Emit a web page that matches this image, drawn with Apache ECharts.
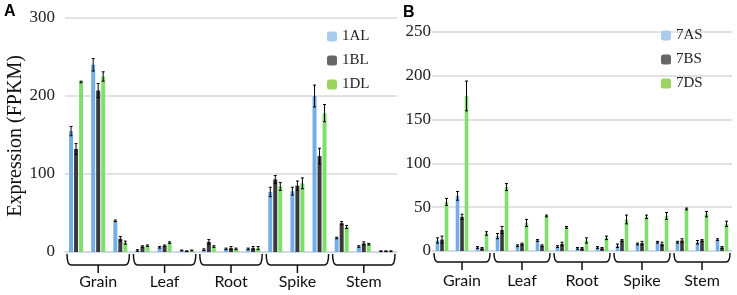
<!DOCTYPE html>
<html>
<head>
<meta charset="utf-8">
<script src="https://cdn.jsdelivr.net/npm/echarts@6/dist/echarts.min.js"></script>
<style>
html,body{margin:0;padding:0;background:#fff;}
#chart{width:737px;height:295px;}
</style>
</head>
<body>
<div id="chart"></div>
<script>
var groups = ['Grain', 'Leaf', 'Root', 'Spike', 'Stem'];
var samples = ['G1','G2','G3','L1','L2','L3','R1','R2','R3','P1','P2','P3','S1','S2','S3'];

// panel A
var v1AL = [155, 240, 40, 2, 6, 2, 3, 4, 4, 77, 78, 200, 18, 7, 1];
var e1AL = [6, 8, 1, 1, 1, 0.5, 1, 1, 1, 6, 5, 14, 1, 1, 0.5];
var v1BL = [132, 207, 17, 7, 8, 1, 13, 5, 5, 93, 85, 123, 37, 11, 1];
var e1BL = [7, 9, 3, 1, 1, 0.5, 3, 2, 2, 5, 6, 10, 2, 2, 0.5];
var v1DL = [218, 225, 12, 8, 12, 2, 7, 4, 5, 84, 88, 178, 32, 10, 1];
var e1DL = [1, 6, 2, 1, 1, 0.5, 1, 1, 2, 5, 7, 11, 2, 1, 0.5];

// panel B
var v7AS = [12, 63, 4, 17, 6, 12, 5, 3, 4, 6, 8, 10, 10, 10, 13];
var e7AS = [3, 5, 1, 3, 1, 1, 1, 1, 1, 2, 1, 1, 1, 2, 1];
var v7BS = [13, 39, 3, 24, 8, 6, 8, 3, 3, 12, 9, 8, 12, 12, 4];
var e7BS = [4, 3, 1, 4, 1, 1, 2, 1, 1, 1, 2, 2, 2, 1, 1];
var v7DS = [56, 177, 20, 73, 32, 40, 27, 12, 15, 36, 39, 40, 48, 42, 31];
var e7DS = [4, 17, 2, 4, 4, 1, 1, 3, 2, 5, 2, 4, 1, 3, 3];

var barCol = ['#74aee8', '#3a3a3a', '#80df6c'];
var legCol = ['#a9cbec', '#666666', '#9ad45e'];
var serif = 'Liberation Serif';

var chart = echarts.init(document.getElementById('chart'));

function barSeries(name, vals, axis, k, w) {
    return {
        name: name, type: 'bar', xAxisIndex: axis, yAxisIndex: axis,
        data: vals, barWidth: w, barGap: '25%',
        itemStyle: {color: barCol[k]}, silent: true
    };
}

function errSeries(vals, errs, axis, k, w) {
    var d = vals.map(function (v, i) { return [i, v, errs[i]]; });
    return {
        type: 'custom', xAxisIndex: axis, yAxisIndex: axis, silent: true, z: 5,
        data: d,
        renderItem: function (params, api) {
            var i = api.value(0), v = api.value(1), e = api.value(2);
            var off = (k - 1) * w * 1.25;
            var hi = api.coord([i, v + e]);
            var lo = api.coord([i, Math.max(v - e, 0)]);
            var x = hi[0] + off;
            var st = {stroke: '#000', lineWidth: 1};
            return {type: 'group', children: [
                {type: 'line', shape: {x1: x, y1: hi[1], x2: x, y2: lo[1]}, style: st},
                {type: 'line', shape: {x1: x - 1.5, y1: hi[1], x2: x + 1.5, y2: hi[1]}, style: st},
                {type: 'line', shape: {x1: x - 1.5, y1: lo[1], x2: x + 1.5, y2: lo[1]}, style: st}
            ]};
        }
    };
}

function braceSeries(axis, drop) {
    var d = groups.map(function (g, i) { return [i * 3, i * 3 + 2]; });
    return {
        type: 'custom', xAxisIndex: axis, yAxisIndex: axis, silent: true, clip: false,
        data: d,
        renderItem: function (params, api) {
            var cw = api.size([1, 0])[0];
            var a = api.coord([api.value(0), 0]);
            var b = api.coord([api.value(1), 0]);
            var x0 = a[0] - cw / 2 + 2, x1 = b[0] + cw / 2 - 2;
            var yt = a[1] + 2, yh = a[1] + drop, cx = (x0 + x1) / 2;
            var p = 'M' + x0 + ' ' + yt + ' Q' + x0 + ' ' + yh + ' ' + (x0 + 4) + ' ' + yh +
                ' L' + (x1 - 4) + ' ' + yh + ' Q' + x1 + ' ' + yh + ' ' + x1 + ' ' + yt +
                ' M' + cx + ' ' + yh + ' L' + cx + ' ' + (yh + 8);
            return {type: 'path', shape: {pathData: p},
                style: {stroke: '#111', lineWidth: 1.5, fill: null}};
        }
    };
}

function xAxisOf(grid) {
    return {
        type: 'category', gridIndex: grid, data: samples,
        axisLine: {lineStyle: {color: '#cfd8e3', width: 1.5}},
        axisTick: {interval: 0, length: 5, lineStyle: {color: '#d8dee8'}},
        axisLabel: {
            interval: 0, margin: 22, fontFamily: 'Lato', fontSize: 16, color: '#111',
            formatter: function (v, i) { return i % 3 === 1 ? groups[(i - 1) / 3] : ''; }
        }
    };
}

function yAxisOf(grid, max, step, margin) {
    return {
        type: 'value', gridIndex: grid, min: 0, max: max, interval: step,
        axisLine: {show: false}, axisTick: {show: false},
        axisLabel: {fontFamily: serif, fontSize: 17, color: '#222', margin: margin},
        splitLine: {lineStyle: {color: '#d9d9d9', width: 1.5}}
    };
}

var option = {
    animation: false,
    grid: [
        {left: 65, right: 340, top: 18, bottom: 43},
        {left: 432, right: 5, top: 32, bottom: 44}
    ],
    xAxis: [xAxisOf(0), xAxisOf(1)],
    yAxis: [yAxisOf(0, 300, 100, 10), yAxisOf(1, 250, 50, 1)],
    legend: [
        {
            orient: 'vertical', left: 322, top: 24, itemWidth: 10, itemHeight: 10, itemGap: 9,
            icon: 'roundRect', selectedMode: false,
            textStyle: {fontFamily: serif, fontSize: 15, color: '#222'},
            data: ['1AL', '1BL', '1DL'].map(function (n, k) { return {name: n, itemStyle: {color: legCol[k]}}; })
        },
        {
            orient: 'vertical', left: 656, top: 23, itemWidth: 10, itemHeight: 10, itemGap: 9,
            icon: 'roundRect', selectedMode: false,
            textStyle: {fontFamily: serif, fontSize: 15, color: '#222'},
            data: ['7AS', '7BS', '7DS'].map(function (n, k) { return {name: n, itemStyle: {color: legCol[k]}}; })
        }
    ],
    graphic: [
        {type: 'text', left: 4, top: 4, style: {text: 'A', font: 'bold 16px Liberation Sans', fill: '#000'}},
        {type: 'text', left: 403, top: 5, style: {text: 'B', font: 'bold 16px Liberation Sans', fill: '#000'}},
        {type: 'text', x: 16, y: 136, rotation: Math.PI / 2, silent: true,
            style: {text: 'Expression (FPKM)', font: '20px Liberation Serif', fill: '#111',
                align: 'center', verticalAlign: 'middle'}}
    ],
    series: [
        barSeries('1AL', v1AL, 0, 0, 4), barSeries('1BL', v1BL, 0, 1, 4), barSeries('1DL', v1DL, 0, 2, 4),
        errSeries(v1AL, e1AL, 0, 0, 4), errSeries(v1BL, e1BL, 0, 1, 4), errSeries(v1DL, e1DL, 0, 2, 4),
        barSeries('7AS', v7AS, 1, 0, 3.6), barSeries('7BS', v7BS, 1, 1, 3.6), barSeries('7DS', v7DS, 1, 2, 3.6),
        errSeries(v7AS, e7AS, 1, 0, 3.6), errSeries(v7BS, e7BS, 1, 1, 3.6), errSeries(v7DS, e7DS, 1, 2, 3.6),
        braceSeries(0, 13), braceSeries(1, 11)
    ]
};
chart.setOption(option);
</script>
</body>
</html>
